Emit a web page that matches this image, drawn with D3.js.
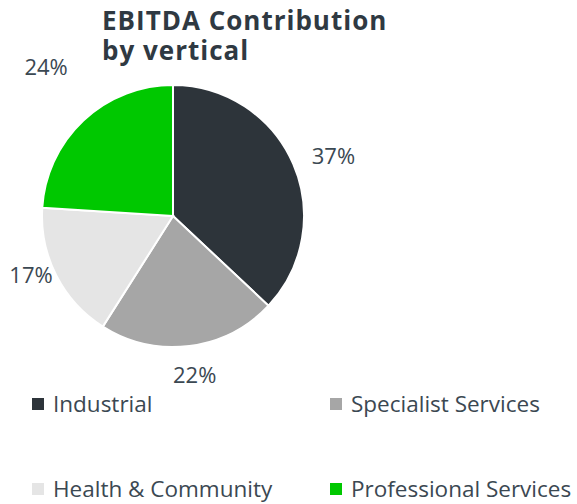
<!DOCTYPE html>
<html>
<head>
<meta charset="utf-8">
<script src="https://cdn.jsdelivr.net/npm/d3@7"></script>
<style>
    body { margin: 0; background: #fff; }
    svg { display: block; }
    .title { font-family: "Open Sans", sans-serif; font-weight: 700; font-size: 26px; letter-spacing: 1px; fill: #2f3942; }
    .pct { font-family: "Open Sans", sans-serif; font-size: 22px; fill: #3b4852; }
    .legend text { font-family: "Open Sans", sans-serif; font-size: 22.5px; fill: #3b4852; }
</style>
</head>
<body>
<div id="chart"></div>
<script>

    // data
    var verticals = ["Industrial", "Specialist Services", "Health & Community", "Professional Services"];
    var shares = [37, 22, 17, 24];
    var colours = ["#2d343a", "#a6a6a6", "#e5e5e5", "#00c800"];
    var titleLines = ["EBITDA Contribution", "by vertical"];

    // manual nudges for label placement (like excel best fit)
    var labelNudge = {
        "Industrial": [9, 6],
        "Specialist Services": [1, -5],
        "Health & Community": [5, -16],
        "Professional Services": [-14, -29]
    };

    var width = 577, height = 504;
    var cx = 173, cy = 216, radius = 131;

    var svg = d3.select("#chart")
        .append("svg")
        .attr("width", width)
        .attr("height", height);

    // title, one text block with two lines
    svg.append("text")
        .attr("class", "title")
        .attr("y", 30)
        .selectAll("tspan")
        .data(titleLines)
        .enter()
        .append("tspan")
        .attr("x", 102)
        .attr("dy", function (d, i) { return i === 0 ? 0 : 30; })
        .text(function (d) { return d; });

    var pie = d3.pie().sort(null).value(function (d) { return d; });
    var arcs = pie(shares);

    var arc = d3.arc().innerRadius(0).outerRadius(radius);
    var labelArc = d3.arc().innerRadius(165).outerRadius(165);

    var g = svg.append("g")
        .attr("transform", "translate(" + cx + "," + cy + ")");

    g.selectAll("path")
        .data(arcs)
        .enter()
        .append("path")
        .attr("d", arc)
        .style("fill", function (d, i) { return colours[i]; })
        .style("stroke", "#fff")
        .style("stroke-width", 2);

    g.selectAll("text.pct")
        .data(arcs)
        .enter()
        .append("text")
        .attr("class", "pct")
        .attr("text-anchor", "middle")
        .attr("dy", "0.36em")
        .attr("transform", function (d, i) {
            var c = labelArc.centroid(d);
            var n = labelNudge[verticals[i]];
            return "translate(" + (c[0] + n[0]) + "," + (c[1] + n[1]) + ")";
        })
        .text(function (d) { return d.data + "%"; });

    // legend, 2 columns
    var legendX = d3.scalePoint().domain([0, 1]).range([32, 330]);
    var legendY = d3.scalePoint().domain([0, 1]).range([404, 489]);

    var legend = svg.append("g")
        .attr("class", "legend")
        .selectAll("g")
        .data(verticals)
        .enter()
        .append("g")
        .attr("transform", function (d, i) {
            return "translate(" + legendX(i % 2) + "," + legendY(Math.floor(i / 2)) + ")";
        });

    legend.append("rect")
        .attr("x", 0)
        .attr("y", -6)
        .attr("width", 12)
        .attr("height", 12)
        .style("fill", function (d, i) { return colours[i]; });

    legend.append("text")
        .attr("x", 21)
        .attr("y", 8)
        .text(function (d) { return d; });

</script>
</body>
</html>
